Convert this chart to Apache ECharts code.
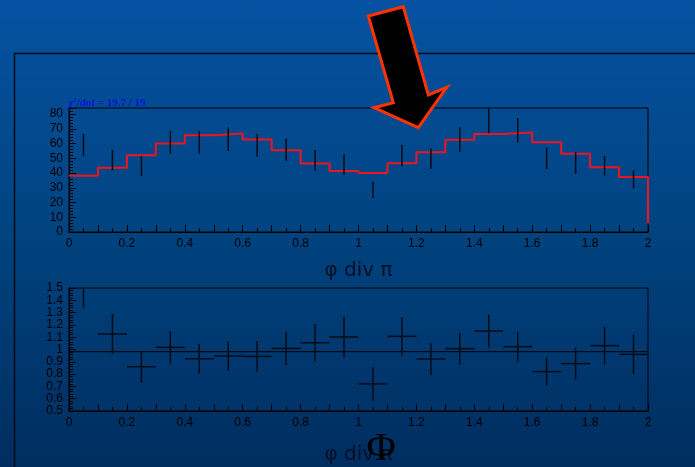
<!DOCTYPE html>
<html>
<head>
<meta charset="utf-8">
<script src="https://cdn.jsdelivr.net/npm/echarts@6/dist/echarts.min.js"></script>
<style>
html,body{margin:0;padding:0;width:695px;height:467px;overflow:hidden;
background:linear-gradient(to bottom,#0652a2 0%,#00437f 50%,#002d5f 100%);}
#c{width:695px;height:467px;}
</style>
</head>
<body>
<div id="c"></div>
<script>
// ---- data ----
const binCenters = [0.05,0.15,0.25,0.35,0.45,0.55,0.65,0.75,0.85,0.95,1.05,1.15,1.25,1.35,1.45,1.55,1.65,1.75,1.85,1.95];
const binWidth = 0.1;
const fitValues = [38.2,43.6,52.0,60.0,65.7,66.8,62.7,55.5,46.4,41.4,40.0,46.6,54.1,62.5,66.4,67.5,60.9,53.0,43.9,37.3];
const fitEndValue = 6;
const dataValues = [59.0,48.8,44.8,60.8,60.8,62.9,58.9,55.8,48.6,45.7,28.6,51.8,49.8,62.7,76.0,69.0,50.0,46.8,44.9,35.7];
const dataErrors = [7.6,7.0,6.8,7.8,7.8,8.0,7.7,7.6,7.0,7.0,5.5,7.3,7.0,8.2,9.0,8.3,7.3,7.3,6.7,6.1];
const ratioValues = [1.60,1.126,0.86,1.017,0.925,0.947,0.944,1.009,1.055,1.102,0.72,1.107,0.923,1.007,1.15,1.023,0.82,0.885,1.031,0.96];
const ratioErrors = [0.26,0.163,0.13,0.133,0.12,0.12,0.125,0.135,0.153,0.164,0.135,0.157,0.13,0.13,0.133,0.123,0.115,0.13,0.153,0.16];
const ratioFit = 0.982;
const xRange = [0, 2];
const upperYRange = [0, 84.1];
const lowerYRange = [0.5, 1.5];
const chiText = '19.7 / 19';
const axisTitle = 'φ div π';

// ---- build ----
const stepData = binCenters.map((c, i) => [+(c - binWidth / 2).toFixed(2), fitValues[i]]);
stepData.push([xRange[1], fitValues[fitValues.length - 1]]);
stepData.push([xRange[1], fitEndValue]);

const upperErr = binCenters.map((c, i) => [c, dataValues[i], dataErrors[i]]);
const lowerErr = binCenters.map((c, i) => [c, ratioValues[i], ratioErrors[i]]);

const labelStyle = {color: '#000', fontFamily: 'Liberation Sans', fontSize: 12};
const barColor = '#060b16';

function errRender(withHorizontal) {
  return function (params, api) {
    const x = api.value(0), y = api.value(1), e = api.value(2);
    const cs = params.coordSys;
    const clampY = p => Math.max(cs.y, Math.min(cs.y + cs.height, p));
    const top = api.coord([x, y + e]);
    const bot = api.coord([x, y - e]);
    const children = [];
    const y1 = clampY(top[1]), y2 = clampY(bot[1]);
    if (y2 > y1) {
      children.push({type: 'line', shape: {x1: top[0], y1: y1, x2: bot[0], y2: y2},
        style: {stroke: barColor, lineWidth: 1.5}});
    }
    if (withHorizontal) {
      const l = api.coord([x - binWidth / 2, y]);
      const r = api.coord([x + binWidth / 2, y]);
      if (l[1] >= cs.y && l[1] <= cs.y + cs.height) {
        children.push({type: 'line', shape: {x1: l[0], y1: l[1], x2: r[0], y2: r[1]},
          style: {stroke: barColor, lineWidth: 1.5}});
      }
    }
    return {type: 'group', children: children};
  };
}

function xAxisCfg(idx, gap) {
  return {
    type: 'value', gridIndex: idx, min: xRange[0], max: xRange[1], interval: 0.1,
    name: axisTitle, nameLocation: 'middle', nameGap: gap,
    nameTextStyle: {color: '#061024', fontFamily: 'DejaVu Sans', fontSize: 20},
    axisLine: {show: true, lineStyle: {color: '#000', width: 1}},
    axisTick: {show: true, inside: true, length: 7, lineStyle: {color: '#000'}},
    minorTick: {show: true, splitNumber: 2, length: 4, lineStyle: {color: '#000'}},
    splitLine: {show: false},
    axisLabel: Object.assign({margin: 6, formatter: v => {
      const k = Math.round(v * 10);
      return k % 2 === 0 ? String(k / 10) : '';
    }}, labelStyle)
  };
}

function yAxisCfg(idx, range, interval, minorSplit) {
  return {
    type: 'value', gridIndex: idx, min: range[0], max: range[1], interval: interval,
    axisLine: {show: true, lineStyle: {color: '#000', width: 1}},
    axisTick: {show: true, inside: true, length: 7, lineStyle: {color: '#000'}},
    minorTick: {show: true, splitNumber: minorSplit, length: 4, lineStyle: {color: '#000'}},
    splitLine: {show: false},
    axisLabel: Object.assign({margin: 6, formatter: v => {
      const k = v / interval;
      return Math.abs(k - Math.round(k)) < 1e-6 ? String(+v.toFixed(2)) : '';
    }}, labelStyle)
  };
}

const chart = echarts.init(document.getElementById('c'), null, {renderer: 'canvas'});
chart.setOption({
  backgroundColor: 'transparent',
  animation: false,
  grid: [
    {left: 69, top: 108, width: 579, height: 124, show: true, borderColor: '#000', borderWidth: 1, backgroundColor: 'transparent'},
    {left: 69, top: 288, width: 579, height: 123, show: true, borderColor: '#000', borderWidth: 1, backgroundColor: 'transparent'}
  ],
  xAxis: [xAxisCfg(0, 29), xAxisCfg(1, 34)],
  yAxis: [yAxisCfg(0, upperYRange, 10, 5), yAxisCfg(1, lowerYRange, 0.1, 5)],
  series: [
    {type: 'line', xAxisIndex: 0, yAxisIndex: 0, data: stepData, step: 'end', symbol: 'none',
      lineStyle: {color: '#f01420', width: 2}, z: 3},
    {type: 'custom', xAxisIndex: 0, yAxisIndex: 0, data: upperErr, renderItem: errRender(false), z: 4},
    {type: 'line', xAxisIndex: 1, yAxisIndex: 1, data: [[xRange[0], ratioFit], [xRange[1], ratioFit]], symbol: 'none',
      lineStyle: {color: '#000', width: 1}, z: 3},
    {type: 'custom', xAxisIndex: 1, yAxisIndex: 1, data: lowerErr, renderItem: errRender(true), z: 4}
  ],
  graphic: [
    {type: 'polyline', z: 1, silent: true,
      shape: {points: [[14.5, 467], [14.5, 53.5], [695, 53.5]]},
      style: {stroke: '#050a14', lineWidth: 1.5, fill: null}},
    {type: 'text', left: 68, top: 97, z: 10, silent: true,
      style: {text: 'χ{s|2}/dof = ' + chiText,
        rich: {s: {fontSize: 7, verticalAlign: 'top', fill: '#0a14e6', fontWeight: 'bold', fontFamily: 'Liberation Serif', padding: [0, 0, 5, 0]}},
        fill: '#0a14e6', fontFamily: 'Liberation Serif', fontWeight: 'bold', fontSize: 11}},
    {type: 'text', z: 10, silent: true, x: 381, y: 449,
      style: {text: 'Φ', fill: '#000', fontFamily: 'Liberation Serif', fontSize: 40,
        align: 'center', verticalAlign: 'middle'}},
    {type: 'polygon', z: 20, silent: true,
      shape: {points: [[368.3, 16], [403.3, 6.7], [428.3, 95], [446.7, 87.3], [418.3, 127.7], [374, 107.7], [393.3, 102.7]]},
      style: {fill: '#000', stroke: '#ff3300', lineWidth: 3, lineJoin: 'miter'}}
  ]
});
</script>
</body>
</html>
